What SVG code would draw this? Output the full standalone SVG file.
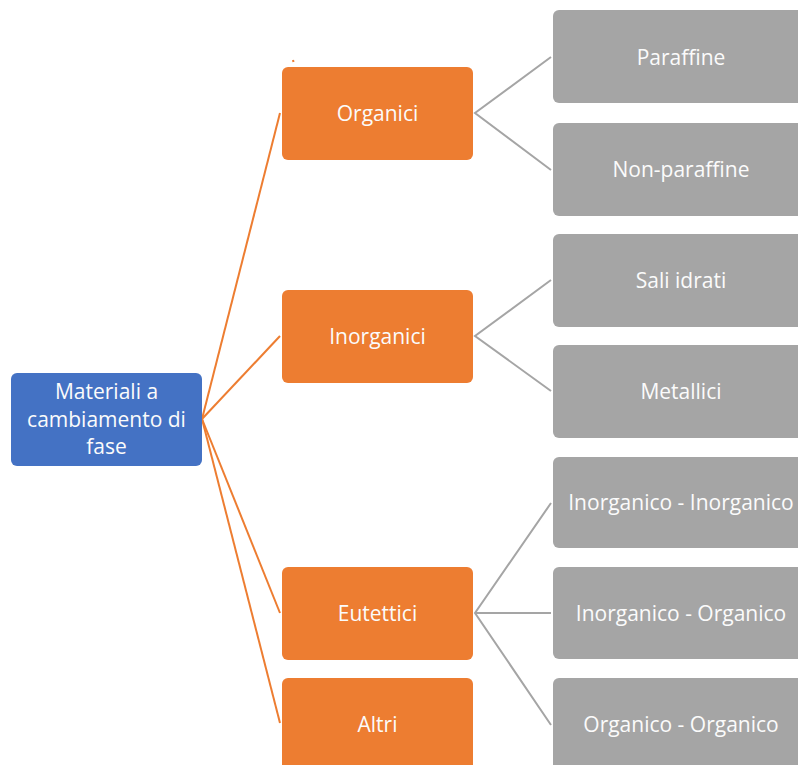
<svg xmlns="http://www.w3.org/2000/svg" width="798" height="765" viewBox="0 0 798 765">
<style>
text{font-family:"Open Sans","Noto Sans","Liberation Sans",sans-serif;font-size:21px;fill:#fbfbfb;text-anchor:middle;dominant-baseline:central}
.root rect{fill:#4472C4}
.cat rect{fill:#ED7D31}
.leaf rect{fill:#A5A5A5}
.oc{stroke:#ED7D31;stroke-width:2;fill:none}
.gc{stroke:#A5A5A5;stroke-width:2;fill:none}
</style>
<rect width="798" height="765" fill="#ffffff"/>
<g id="connectors">
<path class="oc" d="M202 419 L280 113"/>
<path class="oc" d="M202 419 L280 336"/>
<path class="oc" d="M202 419 L280 613"/>
<path class="oc" d="M202 419 L280 723"/>
<path class="oc" d="M293 60 L293.5 62"/>
<path class="gc" d="M551 57 L475 113 L551 170"/>
<path class="gc" d="M551 280 L475 336 L551 391"/>
<path class="gc" d="M551 503 L475 613 L551 725"/>
<path class="gc" d="M475 613 L551 613"/>
</g>
<g id="root" class="root"><rect x="11" y="373" width="191" height="93" rx="6"/><text x="106.5" y="391">Materiali a</text><text x="106.5" y="419">cambiamento di</text><text x="106.5" y="446">fase</text></g>
<g id="organici" class="cat"><rect x="282" y="67" width="191" height="93" rx="6"/><text x="377.5" y="113">Organici</text></g>
<g id="inorganici" class="cat"><rect x="282" y="290" width="191" height="93" rx="6"/><text x="377.5" y="336">Inorganici</text></g>
<g id="eutettici" class="cat"><rect x="282" y="567" width="191" height="93" rx="6"/><text x="377.5" y="613">Eutettici</text></g>
<g id="altri" class="cat"><rect x="282" y="678" width="191" height="93" rx="6"/><text x="377.5" y="724">Altri</text></g>
<g id="paraffine" class="leaf"><rect x="553" y="10" width="256" height="93" rx="6"/><text x="681" y="57">Paraffine</text></g>
<g id="non-paraffine" class="leaf"><rect x="553" y="123" width="256" height="93" rx="6"/><text x="681" y="169">Non-paraffine</text></g>
<g id="sali-idrati" class="leaf"><rect x="553" y="234" width="256" height="93" rx="6"/><text x="681" y="280">Sali idrati</text></g>
<g id="metallici" class="leaf"><rect x="553" y="345" width="256" height="93" rx="6"/><text x="681" y="391">Metallici</text></g>
<g id="inorg-inorg" class="leaf"><rect x="553" y="457" width="256" height="91" rx="6"/><text x="681" y="502">Inorganico - Inorganico</text></g>
<g id="inorg-org" class="leaf"><rect x="553" y="567" width="256" height="92" rx="6"/><text x="681" y="613">Inorganico - Organico</text></g>
<g id="org-org" class="leaf"><rect x="553" y="678" width="256" height="93" rx="6"/><text x="681" y="724">Organico - Organico</text></g>
</svg>
